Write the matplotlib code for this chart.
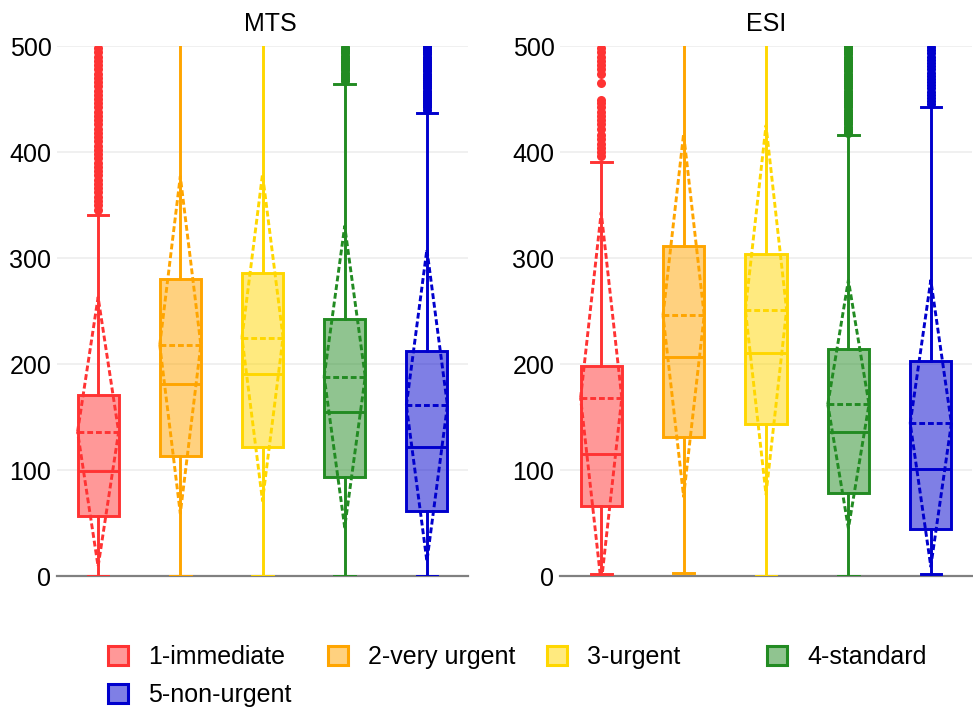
"""Box plots of waiting time per triage level, MTS vs ESI (mean +/- SD diamonds)."""

import matplotlib
matplotlib.use("Agg")
import matplotlib.pyplot as plt
from matplotlib.colors import to_rgba
from matplotlib.patches import Patch

plt.rcParams["font.family"] = ["Liberation Sans", "DejaVu Sans"]

categories = ["1-immediate", "2-very urgent", "3-urgent", "4-standard", "5-non-urgent"]
colors = ["#FF3333", "#FFA500", "#FFD700", "#228B22", "#0000CD"]

# MTS
mts_q1 = [57, 113, 122, 93, 61]
mts_med = [99, 181, 191, 155, 122]
mts_q3 = [171, 280, 286, 242, 212]
mts_mean = [136, 218, 225, 188, 161]
mts_sd = [127, 159, 154, 142, 147]
mts_lo = [0, 0, 0, 0, 0]
mts_hi = [341, 560, 560, 464, 437]
mts_fliers = [
    [345, 350, 354, 358, 362, 366, 370, 374, 378, 382, 386, 390, 394, 398,
     402, 406, 410, 414, 418, 422, 426, 430, 434, 438, 442, 446, 450, 454,
     458, 462, 466, 470, 474, 478, 482, 486, 490, 494, 498],
    [],
    [],
    [467, 469, 471, 473, 475, 477, 479, 481, 483, 485, 487, 489, 491, 493,
     495, 497, 499],
    [440, 442, 444, 446, 448, 450, 452, 454, 456, 458, 460, 462, 464, 466,
     468, 470, 472, 474, 476, 478, 480, 482, 484, 486, 488, 490, 492, 494,
     496, 498, 500],
]

# ESI
esi_q1 = [66, 131, 143, 78, 44]
esi_med = [115, 207, 210, 136, 101]
esi_q3 = [198, 311, 304, 214, 203]
esi_mean = [168, 246, 251, 162, 144]
esi_sd = [175, 171, 174, 117, 135]
esi_lo = [2, 3, 0, 0, 2]
esi_hi = [391, 560, 560, 416, 442]
esi_fliers = [
    [396, 400, 404, 408, 412, 416, 422, 426, 430, 434, 438, 442, 446, 449,
     465, 474, 478, 482, 486, 490, 494, 498],
    [],
    [],
    [418, 420, 422, 424, 426, 428, 430, 432, 434, 436, 438, 440, 442, 444,
     446, 448, 450, 452, 454, 456, 458, 460, 462, 464, 466, 468, 470, 472,
     474, 476, 478, 480, 482, 484, 486, 488, 490, 492, 494, 496, 498, 500],
    [445, 448, 451, 454, 457, 460, 463, 466, 469, 472, 475, 478, 481, 484,
     487, 490, 493, 496, 499],
]

W, H = 973, 710
BOX_W = 0.5
LW = 2.1
DASH = (0, (2, 1))


def draw_panel(ax, title, title_x, q1, med, q3, mean, sd, lo, hi, fliers):
    stats = []
    for i in range(len(categories)):
        stats.append({
            "q1": q1[i], "med": med[i], "q3": q3[i], "mean": mean[i],
            "whislo": lo[i], "whishi": hi[i], "fliers": fliers[i],
        })
    pos = list(range(len(categories)))
    parts = ax.bxp(stats, positions=pos, widths=BOX_W, capwidths=BOX_W / 2,
                   patch_artist=True, showmeans=True, meanline=True,
                   showfliers=True, manage_ticks=False)
    for i, c in enumerate(colors):
        parts["boxes"][i].set(facecolor=to_rgba(c, 0.5), edgecolor=c, linewidth=LW)
        parts["medians"][i].set(color=c, linewidth=LW)
        parts["means"][i].set(color=c, linewidth=LW, linestyle=DASH)
        for j in (2 * i, 2 * i + 1):
            parts["whiskers"][j].set(color=c, linewidth=LW, linestyle="-")
            parts["caps"][j].set(color=c, linewidth=LW)
        parts["fliers"][i].set(marker="o", markersize=6.5, markerfacecolor=c,
                               markeredgewidth=0, linestyle="none")
        # mean +/- sd diamond
        xs = [pos[i] - BOX_W / 2, pos[i], pos[i] + BOX_W / 2, pos[i], pos[i] - BOX_W / 2]
        ys = [mean[i], mean[i] + sd[i], mean[i], mean[i] - sd[i], mean[i]]
        ax.plot(xs, ys, color=c, linewidth=LW, linestyle=DASH, zorder=3)

    ax.set_xlim(-0.5, len(categories) - 0.5)
    ax.set_ylim(0, 500)
    ax.set_yticks([0, 100, 200, 300, 400, 500])
    ax.set_xticks([])
    ax.tick_params(axis="y", length=0, pad=4, labelsize=18)
    for s in ax.spines.values():
        s.set_visible(False)
    ax.grid(axis="y", color="#eeeeee", linewidth=1.2)
    ax.set_axisbelow(True)
    ax.axhline(0, color="#808080", linewidth=1.6, zorder=1.5, clip_on=False)
    ax.figure.text(title_x / W, 1 - 24 / H, title, ha="center", va="center", fontsize=18)


fig = plt.figure(figsize=(W / 100, H / 100), dpi=100)
ax1 = fig.add_axes([57 / W, 1 - 576 / H, 411 / W, 530 / H])
ax2 = fig.add_axes([560 / W, 1 - 576 / H, 412 / W, 530 / H])

draw_panel(ax1, "MTS", 270, mts_q1, mts_med, mts_q3, mts_mean, mts_sd,
           mts_lo, mts_hi, mts_fliers)
draw_panel(ax2, "ESI", 766, esi_q1, esi_med, esi_q3, esi_mean, esi_sd,
           esi_lo, esi_hi, esi_fliers)

# legend laid out like plotly's horizontal legend: 4 columns, wraps
legend_x = [108, 328, 547, 767, 108]
legend_y = [657, 657, 657, 657, 695]
for name, c, lx, ly in zip(categories, colors, legend_x, legend_y):
    h = Patch(facecolor=to_rgba(c, 0.5), edgecolor=c, linewidth=2.2)
    fig.legend([h], [name], loc="center left", bbox_to_anchor=(lx / W, 1 - ly / H),
               frameon=False, fontsize=18, handlelength=0.8, handleheight=0.8,
               handletextpad=0.8, borderpad=0, borderaxespad=0)

fig.savefig("out.png", dpi=100)
plt.close(fig)
